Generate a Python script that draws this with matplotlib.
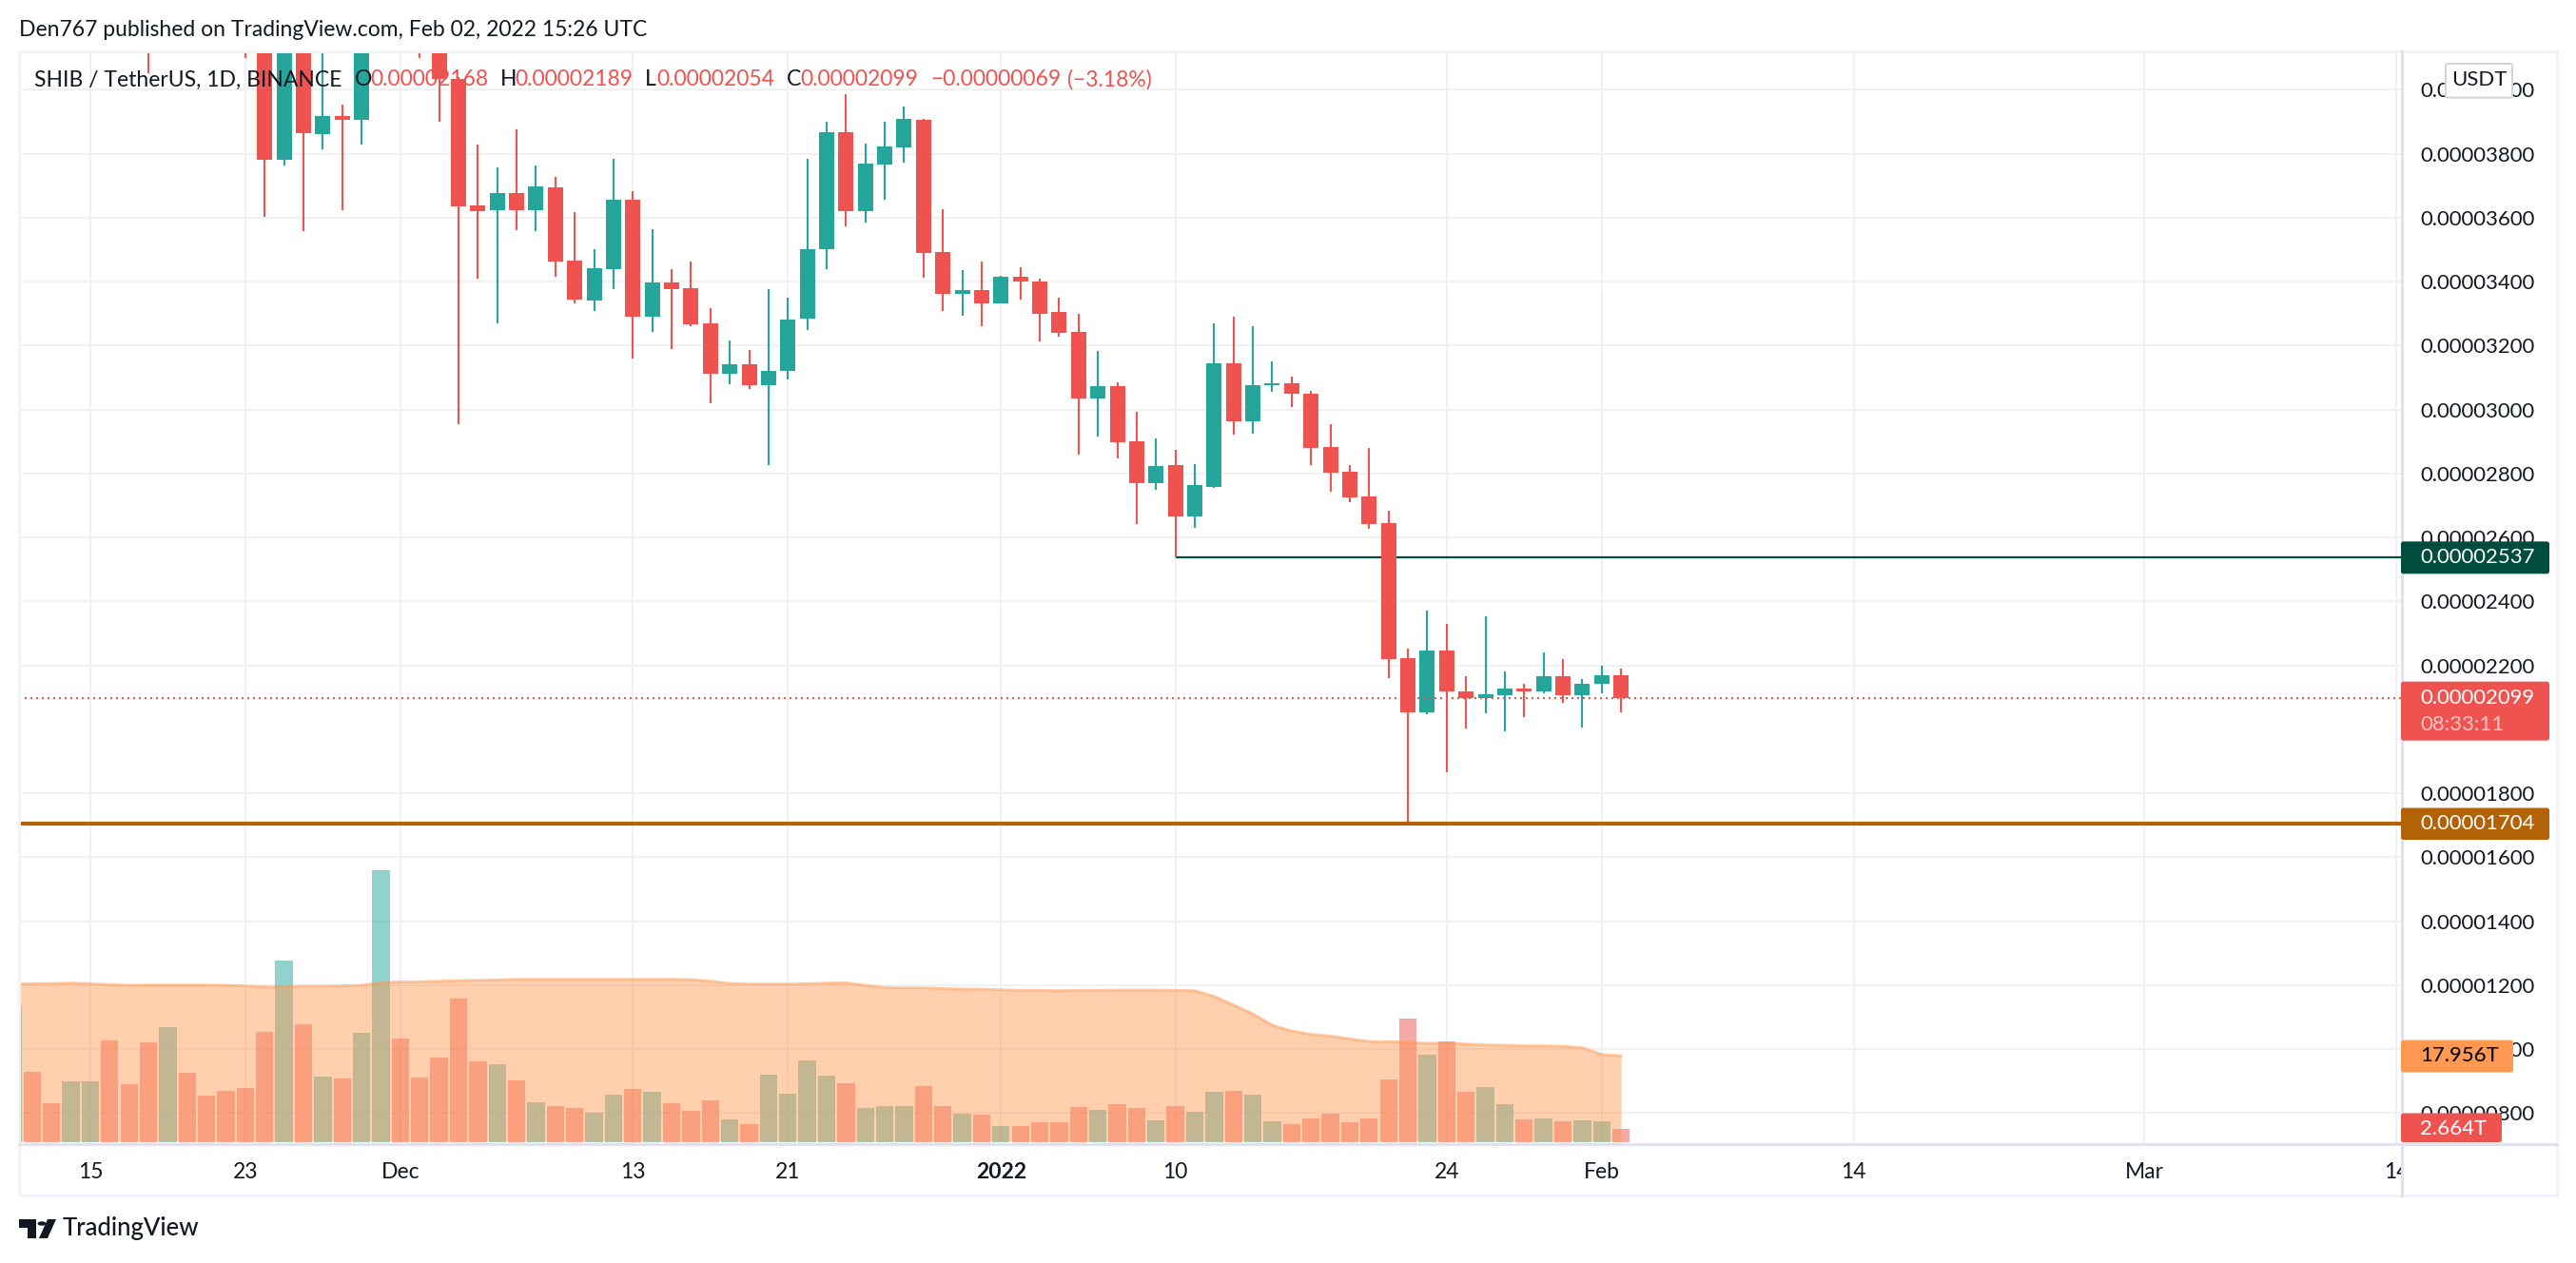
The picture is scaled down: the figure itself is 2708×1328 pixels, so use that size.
import matplotlib
matplotlib.use("Agg")
import matplotlib.pyplot as plt
import matplotlib.dates as mdates
import numpy as np
import pandas as pd
from matplotlib.lines import Line2D
from matplotlib.patches import Circle, FancyBboxPatch, Polygon, Rectangle
from matplotlib.transforms import Bbox

W, H = 2708, 1328
FONT = "Lato"
DARK = "#131722"
UP = "#26a69a"
DOWN = "#ef5350"
GRID = "#f1f1f3"
FRAME = "#f0f3fa"
BORDER = "#e0e3eb"

# prices are in units of 0.00000001
candle_dates = pd.date_range("2021-11-18", "2022-02-02")
opens = [4280, 4200, 4350, 4300, 4250, 4200, 4150, 3782, 4150, 3861, 3918, 3906, 4150,
         4350, 4250, 4150, 4035, 3638, 3622, 3677, 3622, 3695, 3466, 3342, 3440, 3656,
         3289, 3398, 3380, 3270, 3113, 3142, 3075, 3122, 3283, 3500, 3867, 3619, 3767,
         3821, 3906, 3493, 3362, 3374, 3333, 3415, 3401, 3305, 3243, 3036, 3074, 2901,
         2771, 2827, 2667, 2759, 3145, 2962, 3075, 3082, 3050, 2883, 2806, 2729, 2645,
         2223, 2052, 2247, 2119, 2098, 2107, 2128, 2119, 2167, 2107, 2141, 2168]
highs = [4320, 4400, 4420, 4350, 4300, 4250, 4200, 4180, 4180, 4150, 3954, 4200, 4400,
         4400, 4300, 4200, 4040, 3829, 3757, 3876, 3763, 3728, 3618, 3502, 3784, 3683,
         3564, 3439, 3463, 3317, 3216, 3187, 3377, 3350, 3784, 3900, 3986, 3832, 3900,
         3948, 3909, 3627, 3436, 3463, 3418, 3445, 3410, 3350, 3299, 3184, 3085, 2993,
         2910, 2874, 2830, 3270, 3291, 3261, 3151, 3103, 3059, 2955, 2827, 2880, 2684,
         2253, 2372, 2330, 2167, 2354, 2182, 2143, 2241, 2220, 2158, 2199, 2189]
lows = [4051, 4150, 4200, 4180, 4150, 4100, 3604, 3764, 3559, 3815, 3622, 3830, 4130,
        4140, 4100, 3901, 2953, 3410, 3270, 3562, 3559, 3416, 3333, 3309, 3378, 3158,
        3244, 3190, 3262, 3021, 3078, 3063, 2825, 3095, 3250, 3440, 3574, 3586, 3657,
        3773, 3413, 3309, 3292, 3262, 3333, 3345, 3214, 3229, 2860, 2917, 2846, 2643,
        2750, 2539, 2631, 2756, 2923, 2926, 3054, 3009, 2825, 2744, 2709, 2626, 2159,
        1707, 2046, 1867, 2004, 2049, 1995, 2037, 2114, 2084, 2007, 2114, 2054]
closes = [4200, 4350, 4300, 4250, 4200, 4150, 3782, 4150, 3864, 3918, 3906, 4150, 4350,
          4250, 4150, 4035, 3636, 3619, 3677, 3622, 3698, 3464, 3345, 3442, 3656, 3289,
          3398, 3378, 3268, 3113, 3142, 3075, 3121, 3282, 3502, 3867, 3619, 3769, 3823,
          3909, 3491, 3362, 3374, 3333, 3415, 3399, 3300, 3241, 3036, 3074, 2899, 2771,
          2824, 2667, 2764, 3145, 2964, 3076, 3082, 3048, 2881, 2804, 2724, 2643, 2221,
          2052, 2247, 2120, 2098, 2110, 2128, 2119, 2167, 2107, 2143, 2170, 2099]

# volume in trillions, first bar is cut by the left edge
volume_dates = pd.date_range("2021-11-11", "2022-02-02")
volumes = [28.5, 14.6, 8.1, 12.6, 12.6, 21.2, 12.1, 20.8, 24.0, 14.4, 9.7, 10.7, 11.3, 23.0,
           37.9, 24.6, 13.6, 13.2, 22.8, 56.8, 21.6, 13.4, 17.6, 29.9, 16.8, 16.2, 12.8, 8.3,
           7.5, 7.1, 6.1, 9.9, 11.1, 10.5, 8.1, 6.5, 8.7, 4.7, 3.7, 14.0, 10.1, 17.0, 13.8,
           12.3, 7.1, 7.5, 7.5, 11.7, 7.5, 5.9, 5.7, 3.3, 3.3, 4.1, 4.1, 7.3, 6.7, 7.9, 7.1,
           4.5, 7.5, 6.3, 10.5, 10.7, 9.9, 4.3, 3.7, 4.9, 5.9, 4.1, 4.9, 13.0, 25.8, 18.2,
           21.0, 10.5, 11.5, 7.9, 4.7, 4.9, 4.3, 4.5, 4.3, 2.664]
volume_up = [1, 0, 0, 1, 1, 0, 0, 0, 1, 0, 0, 0, 0, 0, 1, 0, 1, 0, 1, 1, 0, 0, 0, 0, 0, 1, 0, 1,
             0, 0, 1, 1, 0, 1, 0, 0, 0, 1, 0, 1, 1, 1, 1, 0, 1, 1, 1, 0, 0, 1, 0, 1, 0, 0, 0, 0,
             1, 0, 0, 1, 0, 1, 1, 0, 1, 1, 0, 0, 0, 0, 0, 0, 0, 1, 0, 0, 1, 1, 0, 1, 0, 1, 1, 0]
volume_ma = [33.05, 33.05, 33.11, 33.18, 33.05, 32.85, 32.72, 32.78, 32.78, 32.78, 32.78, 32.72,
             32.58, 32.38, 32.38, 32.52, 32.52, 32.58, 32.72, 33.25, 33.44, 33.44, 33.58, 33.71,
             33.77, 33.84, 33.97, 33.97, 33.97, 33.97, 33.97, 33.97, 33.97, 33.97, 33.97, 33.91,
             33.58, 33.11, 32.98, 32.98, 32.98, 33.05, 33.18, 33.25, 32.72, 32.25, 32.19, 32.19,
             32.05, 31.92, 31.92, 31.79, 31.66, 31.66, 31.59, 31.66, 31.66, 31.72, 31.72, 31.72,
             31.66, 31.59, 30.40, 28.61, 26.75, 24.37, 23.18, 22.45, 22.12, 21.52, 20.99, 20.93,
             20.86, 20.60, 20.66, 20.46, 20.26, 20.20, 20.07, 20.07, 20.00, 19.67, 18.28, 17.956]

price_ticks = [4000, 3800, 3600, 3400, 3200, 3000, 2800, 2600, 2400, 2200, 1800, 1600,
               1400, 1200, 1000, 800]
time_tick_dates = ["2021-11-15", "2021-11-23", "2021-12-01", "2021-12-13", "2021-12-21",
                   "2022-01-01", "2022-01-10", "2022-01-24", "2022-02-01", "2022-02-14",
                   "2022-03-01", "2022-03-14"]
time_tick_labels = ["15", "23", "Dec", "13", "21", "2022", "10", "24", "Feb", "14", "Mar", "14"]

last_price = 2099
resistance = 2537
support = 1704
resistance_start = "2022-01-10"


def fx(x):
    return x / W


def fy(y):
    return 1 - y / H


def fig_line(fig, x0, y0, x1, y1, color, width):
    fig.add_artist(Line2D([fx(x0), fx(x1)], [fy(y0), fy(y1)], color=color,
                          lw=width * 0.72, transform=fig.transFigure, zorder=3))


def pill(fig, x0, x1, y0, y1, color, edge="none"):
    fig.add_artist(FancyBboxPatch((fx(x0), fy(y1)), fx(x1 - x0), y1 / H - y0 / H,
                                  boxstyle="round,pad=0,rounding_size=0.001", mutation_aspect=2,
                                  facecolor=color, edgecolor=edge, lw=1.5,
                                  transform=fig.transFigure, zorder=5))


def label(fig, x, y, text, color=DARK, size=16, **kw):
    fig.text(fx(x), fy(y), text, color=color, fontsize=size, family=FONT, va="center",
             zorder=6, **kw)


def main():
    fig = plt.figure(figsize=(W / 100, H / 100), dpi=100, facecolor="white")
    rect = [fx(20), fy(1202.7), fx(2525 - 20), (1202.7 - 54) / H]
    ax = fig.add_axes(rect)
    ax_vol = fig.add_axes(rect, facecolor="none")
    ax_vol.axis("off")

    dec1 = mdates.date2num(pd.Timestamp("2021-12-01"))
    xlim = (dec1 - 19.68, dec1 + 103.3)
    ax.set_xlim(xlim)
    ax_vol.set_xlim(xlim)
    ax.set_ylim(704, 4120)
    ax_vol.set_ylim(-0.4, 227.8)

    for spine in ax.spines.values():
        spine.set_visible(False)
    ax.set_axisbelow(True)
    ax.yaxis.tick_right()
    ax.set_yticks(price_ticks)
    ax.set_yticklabels([f"{v * 1e-8:.8f}" for v in price_ticks], family=FONT, fontsize=15.9, color=DARK)
    tick_x = mdates.date2num(pd.to_datetime(time_tick_dates))
    ax.set_xticks(tick_x)
    ax.set_xticklabels(time_tick_labels, family=FONT, fontsize=16.5, color=DARK)
    ax.tick_params(axis="y", length=0, pad=13.7)
    ax.tick_params(axis="x", length=0, pad=14)
    ax.grid(True, color=GRID, lw=1.44)
    for lbl in ax.get_xticklabels():
        if lbl.get_text() == "2022":
            lbl.set_fontweight("bold")
    # the last date label runs under the price scale
    last = ax.get_xticklabels()[-1]
    last.set_clip_on(True)
    last.set_clip_box(Bbox([[0, 0], [2525, H]]))

    # level lines go under the candles
    ax.plot([mdates.date2num(pd.Timestamp(resistance_start)), xlim[1]], [resistance, resistance],
            color="#004d40", lw=1.6, zorder=2, solid_capstyle="butt")
    ax.axhline(support, color="#b36205", lw=3, zorder=2)

    x = mdates.date2num(candle_dates)
    o, h, l, c = map(np.array, (opens, highs, lows, closes))
    colors = np.where(c >= o, UP, DOWN)
    ax.vlines(x, l, h, colors=colors, lw=1.5, zorder=3)
    ax.bar(x, np.abs(c - o), bottom=np.minimum(o, c), width=0.785, color=colors, lw=0, zorder=4)
    ax.axhline(last_price, color=DOWN, lw=1.44, ls=(0, (1, 2)), zorder=5)

    vx = mdates.date2num(volume_dates)
    bar_colors = [UP if up else DOWN for up in volume_up]
    ax_vol.bar(vx, volumes, width=0.9, color=bar_colors, alpha=0.5, lw=0, zorder=1)
    ax_vol.fill_between(vx, 0.15, volume_ma, color="#ff9850", alpha=0.46, lw=0, zorder=2)
    ax_vol.plot(vx, volume_ma, color="#ff9850", alpha=0.55, lw=2, zorder=3)

    # chart frame
    for seg in [(20, 54, 2688, 54), (20, 1257, 2688, 1257), (20, 54, 20, 1257), (2688, 54, 2688, 1257)]:
        fig_line(fig, *seg, FRAME, 3)
    fig_line(fig, 2525, 54, 2525, 1257, BORDER, 3)
    fig_line(fig, 20, 1202.7, 2688, 1202.7, BORDER, 3)

    # price scale markers
    y_price = lambda v: 161.6 + (3800 - v) * 0.3363
    text_x = 2544
    y = y_price(resistance)
    pill(fig, 2524, 2680, y - 17, y + 17, "#004d40")
    label(fig, text_x, y, f"{resistance * 1e-8:.8f}", "white", 15.9)
    y = y_price(last_price)
    pill(fig, 2524, 2680, y - 17, y + 45, DOWN)
    label(fig, text_x, y, f"{last_price * 1e-8:.8f}", "white", 15.9)
    label(fig, text_x, y + 28, "08:33:11", "#fac5c4", 15.9)
    y = y_price(support)
    pill(fig, 2524, 2680, y - 17, y + 16.5, "#b36205")
    label(fig, text_x, y, f"{support * 1e-8:.8f}", "white", 15.9)
    pill(fig, 2524, 2642, 1093.6, 1127.5, "#ff9850")
    label(fig, text_x, 1110.5, f"{volume_ma[-1]:.3f}T", "black", 15.9)
    pill(fig, 2524, 2630, 1170.5, 1201, DOWN)
    label(fig, text_x, 1187, f"{volumes[-1]:.3f}T", "white", 15.9)
    pill(fig, 2571, 2641, 67, 102.7, "white", "#d1d4dc")
    label(fig, 2606, 84, "USDT", DARK, 15.9, ha="center")

    # header and legend
    label(fig, 20, 31, "Den767 published on TradingView.com, Feb 02, 2022 15:26 UTC", DARK, 16.5)
    label(fig, 35.6, 84, "SHIB / TetherUS, 1D, BINANCE", DARK, 16.5)
    legend = [(373, "O", DARK), (389, "0.00002168", DOWN), (526, "H", DARK), (541, "0.00002189", DOWN),
              (678, "L", DARK), (690, "0.00002054", DOWN), (827, "C", DARK), (841, "0.00002099", DOWN),
              (978, "\u22120.00000069", DOWN), (1122, "(\u22123.18%)", DOWN)]
    for lx, text, color in legend:
        label(fig, lx, 84, text, color, 16.5)

    # logo
    tr = fig.transFigure
    logo = [[(20, 1282), (38, 1282), (38, 1302), (29, 1302), (29, 1291), (20, 1291)],
            [(50, 1282), (59, 1282), (50, 1302), (41, 1302)]]
    for pts in logo:
        fig.add_artist(Polygon([(fx(a), fy(b)) for a, b in pts], closed=True, color=DARK, lw=0, transform=tr))
    fig.add_artist(Circle((fx(44), fy(1286.5)), 4.5 / W, color=DARK, lw=0, transform=tr))
    label(fig, 66, 1292, "TradingView", DARK, 18.5, weight="medium")

    fig.savefig("out.png", dpi=100)


if __name__ == "__main__":
    main()
